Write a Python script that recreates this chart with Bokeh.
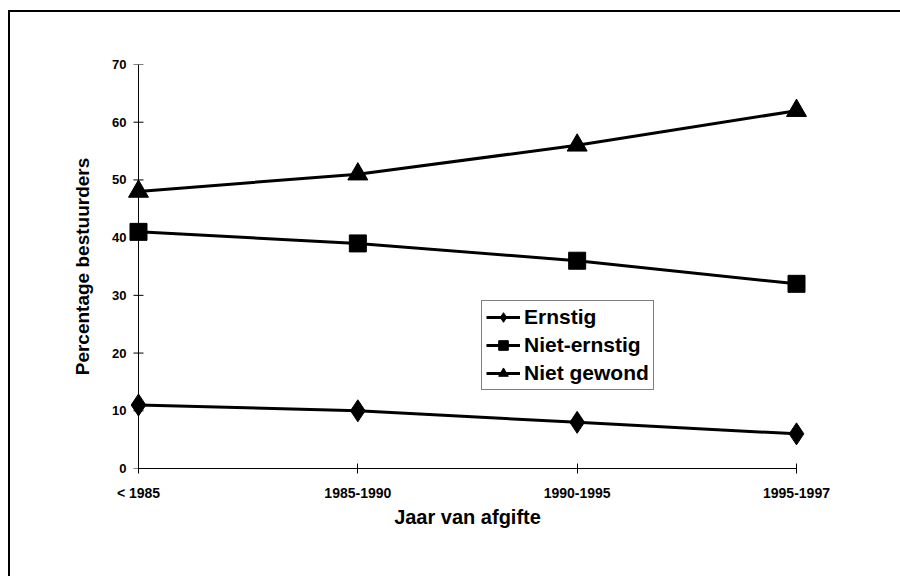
from bokeh.plotting import figure
from bokeh.models import Range1d, Legend, LegendItem, FixedTicker, Span
from bokeh.embed import file_html
from bokeh.resources import INLINE

periods = ["< 1985", "1985-1990", "1990-1995", "1995-1997"]
ernstig = [11, 10, 8, 6]
niet_ernstig = [41, 39, 36, 32]
niet_gewond = [48, 51, 56, 62]
y_ticks = [0, 10, 20, 30, 40, 50, 60, 70]

xs = list(range(len(periods)))
FONT = "Liberation Sans"
pad = 0.155  # room around the first/last category so their markers are whole

# page frame: thin black rules along the top and left, painted behind the canvas
page_frame = {
    "background-image": "linear-gradient(#000, #000), linear-gradient(#000, #000)",
    "background-position": "8px 10px, 8px 10px",
    "background-size": "2px 100%, 100% 2px",
    "background-repeat": "no-repeat, no-repeat",
}

p = figure(width=900, height=576, output_backend="svg", toolbar_location=None,
           x_range=Range1d(-pad, len(periods) - 1 + pad), y_range=Range1d(0, 70),
           min_border_left=104, min_border_right=70, min_border_top=64,
           min_border_bottom=108,
           title="Percentage bestuurders", title_location="left",
           styles=page_frame)
p.border_fill_color = None
p.background_fill_color = None
p.outline_line_color = None
p.xgrid.visible = False
p.ygrid.visible = False

p.title.align = "center"
p.title.standoff = 24
p.title.text_font = FONT
p.title.text_font_style = "bold"
p.title.text_font_size = "19px"
p.title.text_color = "black"

def style_axis(ax, tick_size="13px", title_size="20px"):
    ax.axis_line_color = "black"
    ax.axis_line_width = 1
    ax.major_tick_line_color = "black"
    ax.major_tick_in = 5
    ax.major_tick_out = 5
    ax.minor_tick_line_color = None
    ax.major_label_text_font = FONT
    ax.major_label_text_font_style = "bold"
    ax.major_label_text_font_size = tick_size
    ax.major_label_text_color = "black"
    ax.axis_label_text_font = FONT
    ax.axis_label_text_font_style = "bold"
    ax.axis_label_text_font_size = title_size
    ax.axis_label_text_color = "black"

style_axis(p.xaxis[0], tick_size="14px")
p.xaxis.ticker = FixedTicker(ticks=xs)
p.xaxis.bounds = (0, len(periods) - 1)
p.xaxis.major_label_overrides = {i: lab for i, lab in enumerate(periods)}
p.xaxis.major_label_standoff = 11
p.xaxis.axis_label = "Jaar van afgifte"
p.xaxis.axis_label_standoff = 2

# value labels: sit on the frame edge, pushed right next to the zero line
yl = p.yaxis[0]
style_axis(yl)
yl.ticker = FixedTicker(ticks=y_ticks)
yl.axis_line_color = None
yl.major_tick_line_color = None
yl.major_tick_in = 0
yl.major_tick_out = 0
yl.major_label_standoff = -(int(round(pad * 219.3)) - 12)

# the y axis line and its crossing ticks at the first category
p.add_layout(Span(location=0, dimension="height", line_color="black", line_width=1))
p.scatter([0] * len(y_ticks), y_ticks, marker="dash", size=10,
          line_color="black", line_width=1)

lw = 3
l1 = p.line(xs, ernstig, line_color="black", line_width=lw)
m1 = p.scatter(xs, ernstig, marker="diamond", size=22, color="black")
l2 = p.line(xs, niet_ernstig, line_color="black", line_width=lw)
m2 = p.scatter(xs, niet_ernstig, marker="square", size=17, color="black")
l3 = p.line(xs, niet_gewond, line_color="black", line_width=lw)
m3 = p.scatter(xs, niet_gewond, marker="triangle", size=20, color="black")

legend = Legend(items=[
    LegendItem(label="Ernstig", renderers=[l1, m1]),
    LegendItem(label="Niet-ernstig", renderers=[l2, m2]),
    LegendItem(label="Niet gewond", renderers=[l3, m3]),
], location=(377, 78))
legend.label_text_font = FONT
legend.label_text_font_style = "bold"
legend.label_text_font_size = "21px"
legend.label_text_color = "black"
legend.border_line_color = "black"
legend.border_line_width = 1
legend.background_fill_color = "white"
legend.background_fill_alpha = 1
legend.glyph_width = 34
legend.glyph_height = 24
legend.spacing = 4
legend.padding = 4
legend.margin = 0
legend.label_standoff = 4
legend.label_height = 24
p.add_layout(legend, "center")

open("out.html", "w").write(file_html(p, INLINE))
